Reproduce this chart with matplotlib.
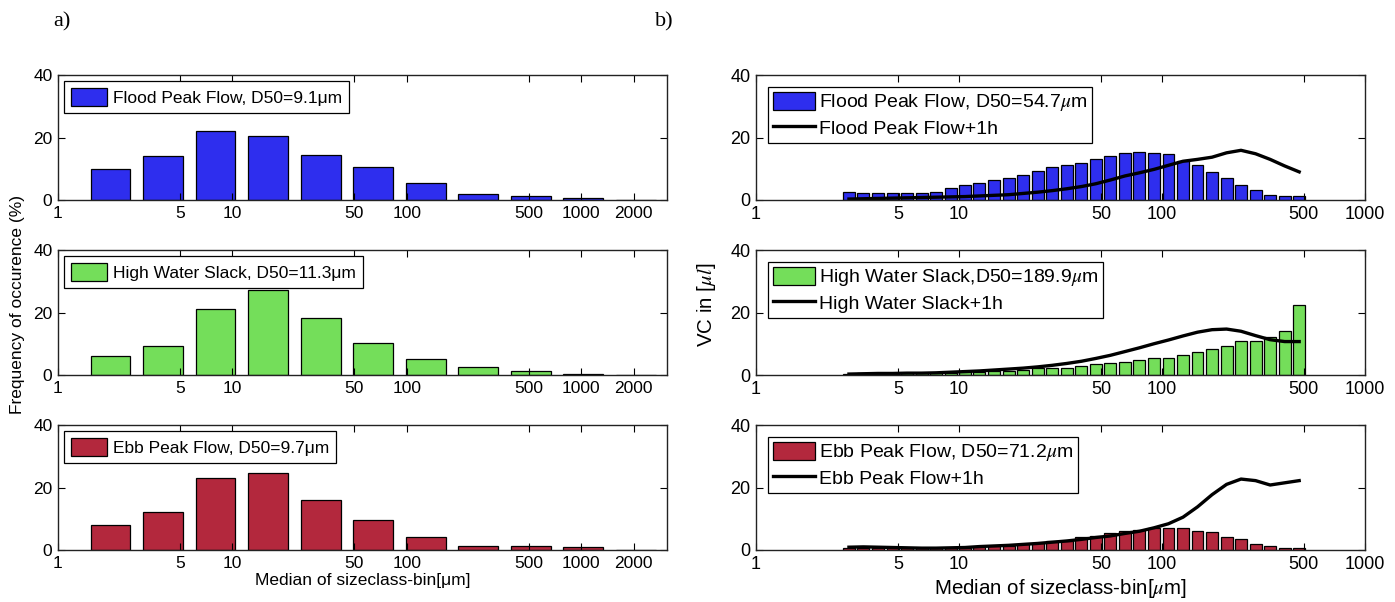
import numpy as np
import matplotlib
matplotlib.use("Agg")
import matplotlib.pyplot as plt

# ---------------- data ----------------
# left panels: frequency of occurrence (%) per size-class bin (median, um)
left_sizes = [2, 4, 8, 16, 32, 64, 128, 256, 512, 1024, 2048]
flood_freq = [10.0, 14.1, 22.2, 20.5, 14.3, 10.7, 5.3, 1.9, 1.2, 0.75, 0.0]
hws_freq = [6.0, 9.4, 21.2, 27.1, 18.3, 10.2, 5.1, 2.7, 1.2, 0.4, 0.0]
ebb_freq = [8.1, 12.2, 23.1, 24.8, 15.9, 9.7, 4.3, 1.4, 1.2, 1.0, 0.0]
left_ticks = [1, 5, 10, 50, 100, 500, 1000, 2000]

# right panels: volume concentration (ul/l) per size class (median, um)
right_sizes = [2.87, 3.38, 3.99, 4.71, 5.55, 6.54, 7.71, 9.09, 10.7, 12.6,
               14.9, 17.6, 20.7, 24.4, 28.8, 34.0, 40.1, 47.2, 55.7, 65.7,
               77.4, 91.3, 107.6, 126.9, 149.6, 176.4, 208.0, 245.0, 289.0,
               341.0, 402.0, 474.0]
flood_vc = [2.7, 2.1, 2.1, 2.1, 2.1, 2.1, 2.7, 4.0, 4.8, 5.3, 6.3, 7.1, 8.0,
            9.4, 10.7, 11.1, 11.9, 13.2, 14.2, 15.0, 15.5, 15.1, 14.6, 12.4,
            11.1, 8.9, 7.0, 4.8, 3.1, 1.7, 1.4, 1.4]
flood_1h = [0.3, 0.4, 0.5, 0.6, 0.7, 0.8, 0.9, 1.0, 1.1, 1.3, 1.5, 1.7, 2.1,
            2.5, 3.0, 3.6, 4.3, 5.2, 6.4, 7.7, 8.7, 9.8, 11.1, 12.4, 13.0,
            13.7, 15.1, 15.9, 14.8, 13.0, 10.9, 9.0]
hws_vc = [0.4, 0.5, 0.5, 0.5, 0.5, 0.5, 0.6, 0.8, 1.0, 1.1, 1.2, 1.4, 1.6,
          2.1, 2.4, 2.3, 3.0, 3.4, 3.8, 4.2, 4.8, 5.3, 5.6, 6.5, 7.4, 8.3,
          9.2, 10.9, 10.9, 12.3, 14.1, 22.4]
hws_1h = [0.3, 0.4, 0.5, 0.5, 0.6, 0.6, 0.7, 0.9, 1.1, 1.3, 1.6, 1.9, 2.2,
          2.6, 3.1, 3.7, 4.4, 5.3, 6.3, 7.5, 8.7, 10.0, 11.2, 12.5, 13.7,
          14.5, 14.7, 14.0, 12.6, 11.3, 10.7, 10.7]
ebb_vc = [0.8, 0.7, 0.7, 0.7, 0.6, 0.6, 0.6, 0.7, 0.8, 1.0, 1.2, 1.4, 1.8,
          2.4, 3.0, 3.0, 4.2, 4.6, 5.6, 6.0, 6.4, 7.0, 7.0, 7.0, 6.1, 5.7,
          4.3, 3.4, 2.0, 1.2, 0.8, 0.7]
ebb_1h = [0.9, 1.0, 0.9, 0.8, 0.7, 0.6, 0.6, 0.7, 0.8, 1.1, 1.3, 1.5, 1.8,
          2.1, 2.5, 2.9, 3.4, 4.0, 4.5, 5.3, 6.0, 7.1, 8.4, 10.5, 13.8, 17.7,
          21.0, 22.7, 22.2, 20.8, 21.5, 22.2]
right_ticks = [1, 5, 10, 50, 100, 500, 1000]

colors = {"flood": "#2E2EEE", "hws": "#74DE5A", "ebb": "#B3283D"}

left_labels = ["Flood Peak Flow, D50=9.1\u03bcm",
               "High Water Slack, D50=11.3\u03bcm",
               "Ebb Peak Flow, D50=9.7\u03bcm"]
right_labels = [r"Flood Peak Flow, D50=54.7$\mu$m",
                r"High Water Slack,D50=189.9$\mu$m",
                r"Ebb Peak Flow, D50=71.2$\mu$m"]
right_line_labels = ["Flood Peak Flow+1h", "High Water Slack+1h",
                     "Ebb Peak Flow+1h"]

# ---------------- figure ----------------
plt.rcParams['font.family'] = ['Liberation Sans', 'DejaVu Sans']
plt.rcParams['mathtext.fontset'] = 'stix'
fig = plt.figure(figsize=(13.95, 6.02), dpi=100)
W, H = 1395.0, 602.0

rows = [(75, 200), (250, 375), (425, 550)]


def make_ax(x0, x1, y0, y1):
    return fig.add_axes([x0 / W, 1 - y1 / H, (x1 - x0) / W, (y1 - y0) / H])


def style_ax(ax, ticks, xlim, fs):
    ax.set_xscale('log')
    ax.set_xlim(*xlim)
    ax.set_ylim(0, 40)
    ax.set_xticks(ticks)
    ax.set_xticklabels([str(t) for t in ticks])
    ax.xaxis.set_minor_locator(matplotlib.ticker.NullLocator())
    ax.set_yticks([0, 20, 40])
    ax.tick_params(direction='in', top=True, right=True, length=5,
                   width=0.8, labelsize=fs, pad=4)
    for s in ax.spines.values():
        s.set_linewidth(1.0)
        s.set_color('#222222')


def log_bars(ax, centers, heights, half_dec, color):
    c = np.asarray(centers, dtype=float)
    lo = c * 10 ** (-half_dec)
    hi = c * 10 ** (half_dec)
    return ax.bar(lo, heights, width=hi - lo, align='edge', color=color,
                  edgecolor='black', linewidth=0.9)


left_data = [flood_freq, hws_freq, ebb_freq]
right_bars = [flood_vc, hws_vc, ebb_vc]
right_lines = [flood_1h, hws_1h, ebb_1h]
keys = ["flood", "hws", "ebb"]

for i, (y0, y1) in enumerate(rows):
    # left
    ax = make_ax(58, 667, y0, y1)
    style_ax(ax, left_ticks, (1, 3100), 12.5)
    b = log_bars(ax, left_sizes, left_data[i], 0.1145, colors[keys[i]])
    leg = ax.legend([b], [left_labels[i]], loc='upper left',
                    fontsize=12.5, frameon=True, fancybox=False,
                    framealpha=1, edgecolor='black', borderaxespad=0.35,
                    handlelength=2.1, handleheight=1.2, handletextpad=0.3,
                    borderpad=0.4)
    leg.get_frame().set_linewidth(0.9)
    if i == 2:
        ax.set_xlabel("Median of sizeclass-bin[\u03bcm]", fontsize=12.5,
                      labelpad=2)

    # right
    ax2 = make_ax(756, 1365, y0, y1)
    style_ax(ax2, right_ticks, (1, 1000), 13)
    b2 = log_bars(ax2, right_sizes, right_bars[i], 0.0293, colors[keys[i]])
    ln, = ax2.plot(right_sizes, right_lines[i], color='black', lw=2.4)
    leg2 = ax2.legend([b2, ln], [right_labels[i], right_line_labels[i]],
                      loc='upper left', fontsize=14, frameon=True,
                      fancybox=False, framealpha=1, edgecolor='black',
                      borderaxespad=0.6, handlelength=2.2, handleheight=1.1,
                      handletextpad=0.2, borderpad=0.25, labelspacing=0.25)
    leg2.get_frame().set_linewidth(0.9)
    if i == 2:
        ax2.set_xlabel(r"Median of sizeclass-bin[$\mu$m]", fontsize=14.8,
                       labelpad=3)

fig.text(18 / W, 1 - 305 / H, "Frequency of occurence (%)", rotation=90,
         ha='center', va='center', fontsize=12.5)
fig.text(706 / W, 1 - 305 / H, r"VC in [$\mu l$]", rotation=90,
         ha='center', va='center', fontsize=14.8)
fig.text(62 / W, 1 - 22 / H, "a)", ha='center', va='center', fontsize=16,
         family=['Liberation Serif', 'DejaVu Serif'])
fig.text(664 / W, 1 - 22 / H, "b)", ha='center', va='center', fontsize=16,
         family=['Liberation Serif', 'DejaVu Serif'])

fig.savefig("out.png", dpi=100)
